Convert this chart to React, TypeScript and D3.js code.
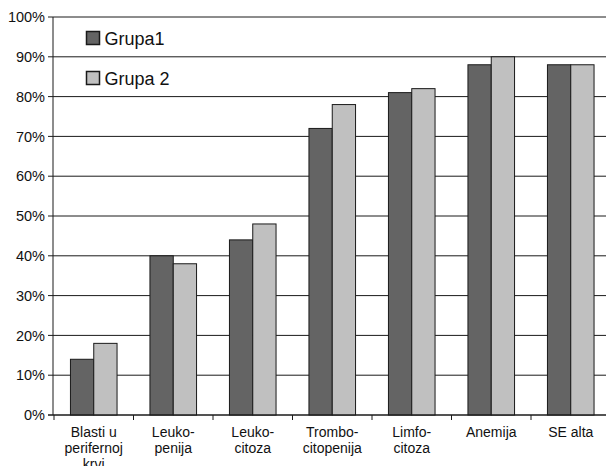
import React from "react";
import * as d3 from "d3";

const categories: string[][] = [
  ["Blasti u", "perifernoj", "krvi"],
  ["Leuko-", "penija"],
  ["Leuko-", "citoza"],
  ["Trombo-", "citopenija"],
  ["Limfo-", "citoza"],
  ["Anemija"],
  ["SE alta"],
];
const grupa1: number[] = [14, 40, 44, 72, 81, 88, 88];
const grupa2: number[] = [18, 38, 48, 78, 82, 90, 88];
const seriesNames: string[] = ["Grupa1", "Grupa 2"];
const seriesColors: string[] = ["#646464", "#c0c0c0"];
const yTicks: number[] = [0, 10, 20, 30, 40, 50, 60, 70, 80, 90, 100];

const W = 606;
const H = 466;
const axisX = 53;
const bandStart = 54;
const step = 79.5;
const top = 17;
const bottom = 415;
const font = "'Liberation Sans', Arial, sans-serif";

export default function App() {
  const x = d3
    .scaleBand<number>()
    .domain(d3.range(categories.length))
    .range([bandStart, bandStart + step * categories.length])
    .paddingInner(0)
    .paddingOuter(0);
  const y = d3.scaleLinear().domain([0, 100]).range([bottom, top]);
  const barW = 23.3;
  const series = [grupa1, grupa2];

  return (
    <svg
      width={W}
      height={H}
      style={{ position: "absolute", left: 0, top: 0, background: "#fff" }}
      fontFamily={font}
    >
      {/* horizontal gridlines */}
      {yTicks.map((t) => (
        <line
          key={"g" + t}
          x1={axisX - 5}
          x2={W + 10}
          y1={y(t)}
          y2={y(t)}
          stroke="#1a1a1a"
          strokeWidth={1}
        />
      ))}
      {/* y axis labels */}
      {yTicks.map((t) => (
        <text
          key={"yl" + t}
          x={45}
          y={y(t)}
          dy="0.36em"
          textAnchor="end"
          fontSize={14.5}
          fill="#111"
        >
          {t}%
        </text>
      ))}
      {/* bars */}
      {series.map((vals, si) =>
        vals.map((v, i) => {
          const cx = (x(i) as number) + x.bandwidth() / 2;
          const bx = cx - barW + si * barW;
          return (
            <rect
              key={`b${si}-${i}`}
              x={bx}
              y={y(v)}
              width={barW}
              height={y(0) - y(v)}
              fill={seriesColors[si]}
              stroke="#1a1a1a"
              strokeWidth={1}
            />
          );
        })
      )}
      {/* axes */}
      <line x1={axisX} x2={axisX} y1={top} y2={bottom} stroke="#1a1a1a" />
      <line x1={axisX - 5} x2={W + 10} y1={bottom} y2={bottom} stroke="#1a1a1a" />
      {d3.range(categories.length + 1).map((i) => (
        <line
          key={"xt" + i}
          x1={bandStart + i * step}
          x2={bandStart + i * step}
          y1={bottom}
          y2={bottom + 5}
          stroke="#1a1a1a"
        />
      ))}
      {/* category labels */}
      {categories.map((lines, i) => (
        <text
          key={"xl" + i}
          x={(x(i) as number) + x.bandwidth() / 2}
          y={436.5}
          textAnchor="middle"
          fontSize={14}
          fill="#111"
        >
          {lines.map((ln, j) => (
            <tspan key={j} x={(x(i) as number) + x.bandwidth() / 2} dy={j === 0 ? 0 : 16.4}>
              {ln}
            </tspan>
          ))}
        </text>
      ))}
      {/* legend */}
      {seriesNames.map((n, si) => (
        <g key={"lg" + si} transform={`translate(86.5, ${31.5 + si * 40})`}>
          <rect width={13} height={13} fill={seriesColors[si]} stroke="#1a1a1a" strokeWidth={1.5} />
          <text x={18} y={13} fontSize={18} fill="#111">
            {n}
          </text>
        </g>
      ))}
    </svg>
  );
}
